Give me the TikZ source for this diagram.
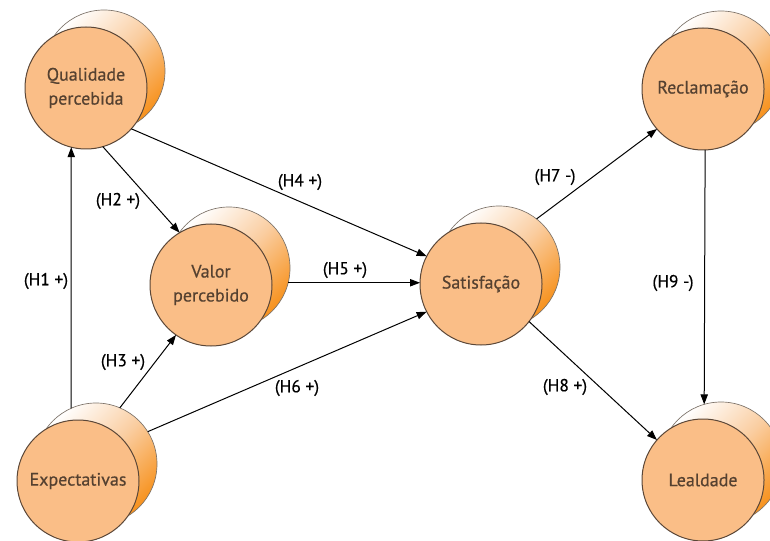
\documentclass[tikz,border=0pt]{standalone}
\usepackage{fontspec}
\setmainfont{PT Sans}
\newfontfamily\semibold{PT Sans}[FakeBold=0.5]
\usetikzlibrary{arrows.meta}

\definecolor{cfront}{RGB}{250,190,135}
\definecolor{cback}{RGB}{247,146,30}
\definecolor{cmid}{RGB}{250,205,160}
\definecolor{cline}{RGB}{90,70,55}
\definecolor{ctext}{RGB}{85,65,48}

\tikzset{every picture/.style={line width=0.75pt}}
\tikzset{
  construct/.style={circle, draw=cline, fill=cfront, minimum size=91.5pt, inner sep=0pt, outer sep=0pt,
    align=center, text=ctext, font=\semibold\fontsize{13.5}{18}\selectfont},
  shadow/.style={circle, draw={rgb,255:red,125;green,115;blue,105}, line width=0.5pt,
    top color=white, bottom color=cback, middle color=cmid, shading angle=45,
    minimum size=91.5pt, inner sep=0pt, outer sep=0pt},
  link/.style={-{Triangle[length=7.5pt,width=5.5pt]}, line width=0.75pt},
  hyp/.style={inner sep=0.75pt, font=\semibold\fontsize{13}{15}\selectfont}
}

\begin{document}
\begin{tikzpicture}[x=0.75pt,y=0.75pt,yscale=-1,xscale=1]
\useasboundingbox (0,0) rectangle (770,541);

%Shape: Circle (back)
\node [shadow] (qb) at (104,71) {};
\node [shadow] (vb) at (229,268) {};
\node [shadow] (sb) at (499,267) {};
\node [shadow] (eb) at (96,464) {};
\node [shadow] (rb) at (721,72) {};
\node [shadow] (lb) at (721,463) {};

%Shape: Circle (front)
\node [construct] (q) at (86,88) {Qualidade\\percebida};
\node [construct] (v) at (211,285) {Valor\\percebido};
\node [construct] (s) at (481,284) {Satisfação};
\node [construct] (e) at (78,481) {Expectativas};
\node [construct] (r) at (703,89) {Reclamação};
\node [construct] (l) at (703,480) {Lealdade};

%Straight Lines
\draw [link] (eb.114) -- (q.256) ;
\draw [link] (q.286) -- (v.121) ;
\draw [link] (eb.67) -- (v.235) ;
\draw [link] (q.318) -- (s.153) ;
\draw [link] (vb.346) -- (vb.346 -| s.west) ;
\draw [link] (eb.32) -- (s.207) ;
\draw [link] (sb.52) -- (r.221) ;
\draw [link] (s.322) -- (l.139) ;
\draw [link] (r.272) -- (lb.106) ;

% Text Node
\node [hyp] (h1) at (46,281) {(H1 +)};
\node [hyp] (h2) at (118,201) {(H2 +)};
\node [hyp] (h3) at (123,362) {(H3 +)};
\node [hyp] (h4) at (300,182) {(H4 +)};
\node [hyp] (h5) at (345,270) {(H5 +)};
\node [hyp] (h6) at (297,388) {(H6 +)};
\node [hyp] (h7) at (555,177) {(H7 -)};
\node [hyp] (h8) at (565,387) {(H8 +)};
\node [hyp] (h9) at (673,283) {(H9 -)};

\end{tikzpicture}
\end{document}
